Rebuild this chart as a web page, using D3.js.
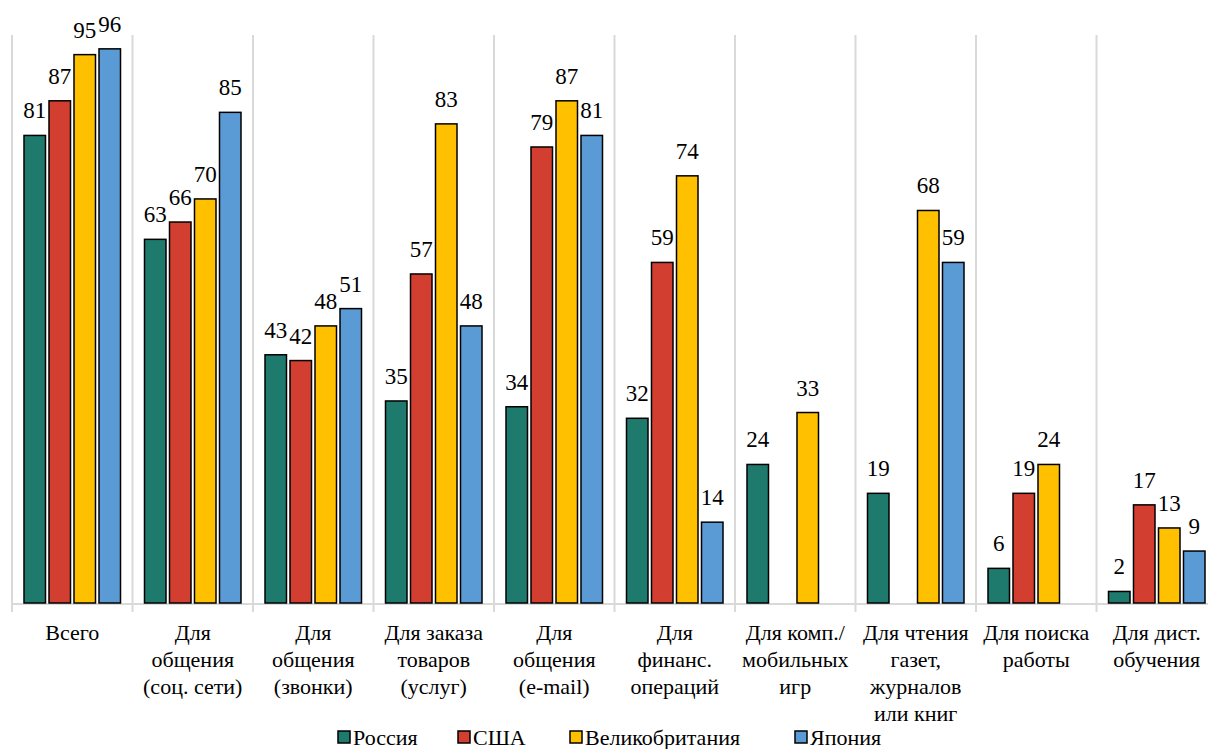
<!DOCTYPE html>
<html>
<head>
<meta charset="utf-8">
<script src="https://cdn.jsdelivr.net/npm/d3@7"></script>
<style>
  body { margin: 0; background: #fff; }
</style>
</head>
<body>
<script>
// data
var categories = [
  ["Всего"],
  ["Для", "общения", "(соц. сети)"],
  ["Для", "общения", "(звонки)"],
  ["Для заказа", "товаров", "(услуг)"],
  ["Для", "общения", "(e-mail)"],
  ["Для", "финанс.", "операций"],
  ["Для комп./", "мобильных", "игр"],
  ["Для чтения", "газет,", "журналов", "или книг"],
  ["Для поиска", "работы"],
  ["Для дист.", "обучения"]
];
var seriesNames = ["Россия", "США", "Великобритания", "Япония"];
var russia = [81, 63, 43, 35, 34, 32, 24, 19, 6, 2];
var usa    = [87, 66, 42, 57, 79, 59, null, null, 19, 17];
var uk     = [95, 70, 48, 83, 87, 74, 33, 68, 24, 13];
var japan  = [96, 85, 51, 48, 81, 14, null, 59, null, 9];
var colors = ["#1f7a6e", "#d23f31", "#ffc000", "#5b9bd5"];

var values = [russia, usa, uk, japan];
var W = 1208, H = 749;
var plotTop = 35, base = 603;
var FONT = "Liberation Serif, Tinos, Times New Roman, DejaVu Serif, serif";

var svg = d3.select("body").append("svg").attr("width", W).attr("height", H)
  .style("font-family", FONT);

var x0 = d3.scaleBand().domain(d3.range(categories.length)).range([12, 1217]).padding(0);
var x1 = d3.scaleBand().domain(d3.range(seriesNames.length)).range([12, x0.bandwidth() - 12]).paddingInner(0.14);
var y = d3.scaleLinear().domain([0, 98.4]).range([base, plotTop]);

// vertical separators + tick marks
var bounds = d3.range(categories.length + 1).map(function(i){ return 12 + x0.step() * i; });
svg.selectAll("line.grid").data(bounds).enter().append("line")
  .attr("class", "grid")
  .attr("x1", function(d){ return d; }).attr("x2", function(d){ return d; })
  .attr("y1", plotTop).attr("y2", base + 9)
  .attr("stroke", "#d9d9d9").attr("stroke-width", 2);

svg.append("line").attr("x1", 12).attr("x2", 1217).attr("y1", base + 1).attr("y2", base + 1)
  .attr("stroke", "#d9d9d9").attr("stroke-width", 2);

var groups = svg.selectAll("g.cat").data(categories).enter().append("g")
  .attr("class", "cat")
  .attr("transform", function(d, i){ return "translate(" + x0(i) + ",0)"; });

groups.each(function(c, i) {
  var g = d3.select(this);
  var pts = values.map(function(s, k){ return {k: k, v: s[i]}; }).filter(function(p){ return p.v != null; });
  g.selectAll("rect").data(pts).enter().append("rect")
    .attr("x", function(p){ return x1(p.k); })
    .attr("width", x1.bandwidth())
    .attr("y", function(p){ return y(p.v); })
    .attr("height", function(p){ return base - y(p.v); })
    .attr("fill", function(p){ return colors[p.k]; })
    .attr("stroke", "#000").attr("stroke-width", 1.5);
  g.selectAll("text.val").data(pts).enter().append("text")
    .attr("class", "val")
    .attr("x", function(p){ return x1(p.k) + x1.bandwidth() / 2; })
    .attr("y", function(p){ return y(p.v) - 17; })
    .attr("text-anchor", "middle")
    .attr("font-size", 23)
    .text(function(p){ return p.v; });
  var lbl = g.append("text").attr("text-anchor", "middle").attr("font-size", 22);
  c.forEach(function(line, j){
    lbl.append("tspan").attr("x", x0.bandwidth() / 2).attr("y", 640 + j * 27).text(line);
  });
});

// legend
var legX = [338, 458, 570, 795];
var leg = svg.selectAll("g.leg").data(seriesNames).enter().append("g")
  .attr("class", "leg")
  .attr("transform", function(d, i){ return "translate(" + legX[i] + ",0)"; });
leg.append("rect").attr("x", 0).attr("y", 731).attr("width", 12).attr("height", 12)
  .attr("fill", function(d, i){ return colors[i]; }).attr("stroke", "#000").attr("stroke-width", 1.5);
leg.append("text").attr("x", 15).attr("y", 745).attr("font-size", 22).text(function(d){ return d; });
</script>
</body>
</html>
